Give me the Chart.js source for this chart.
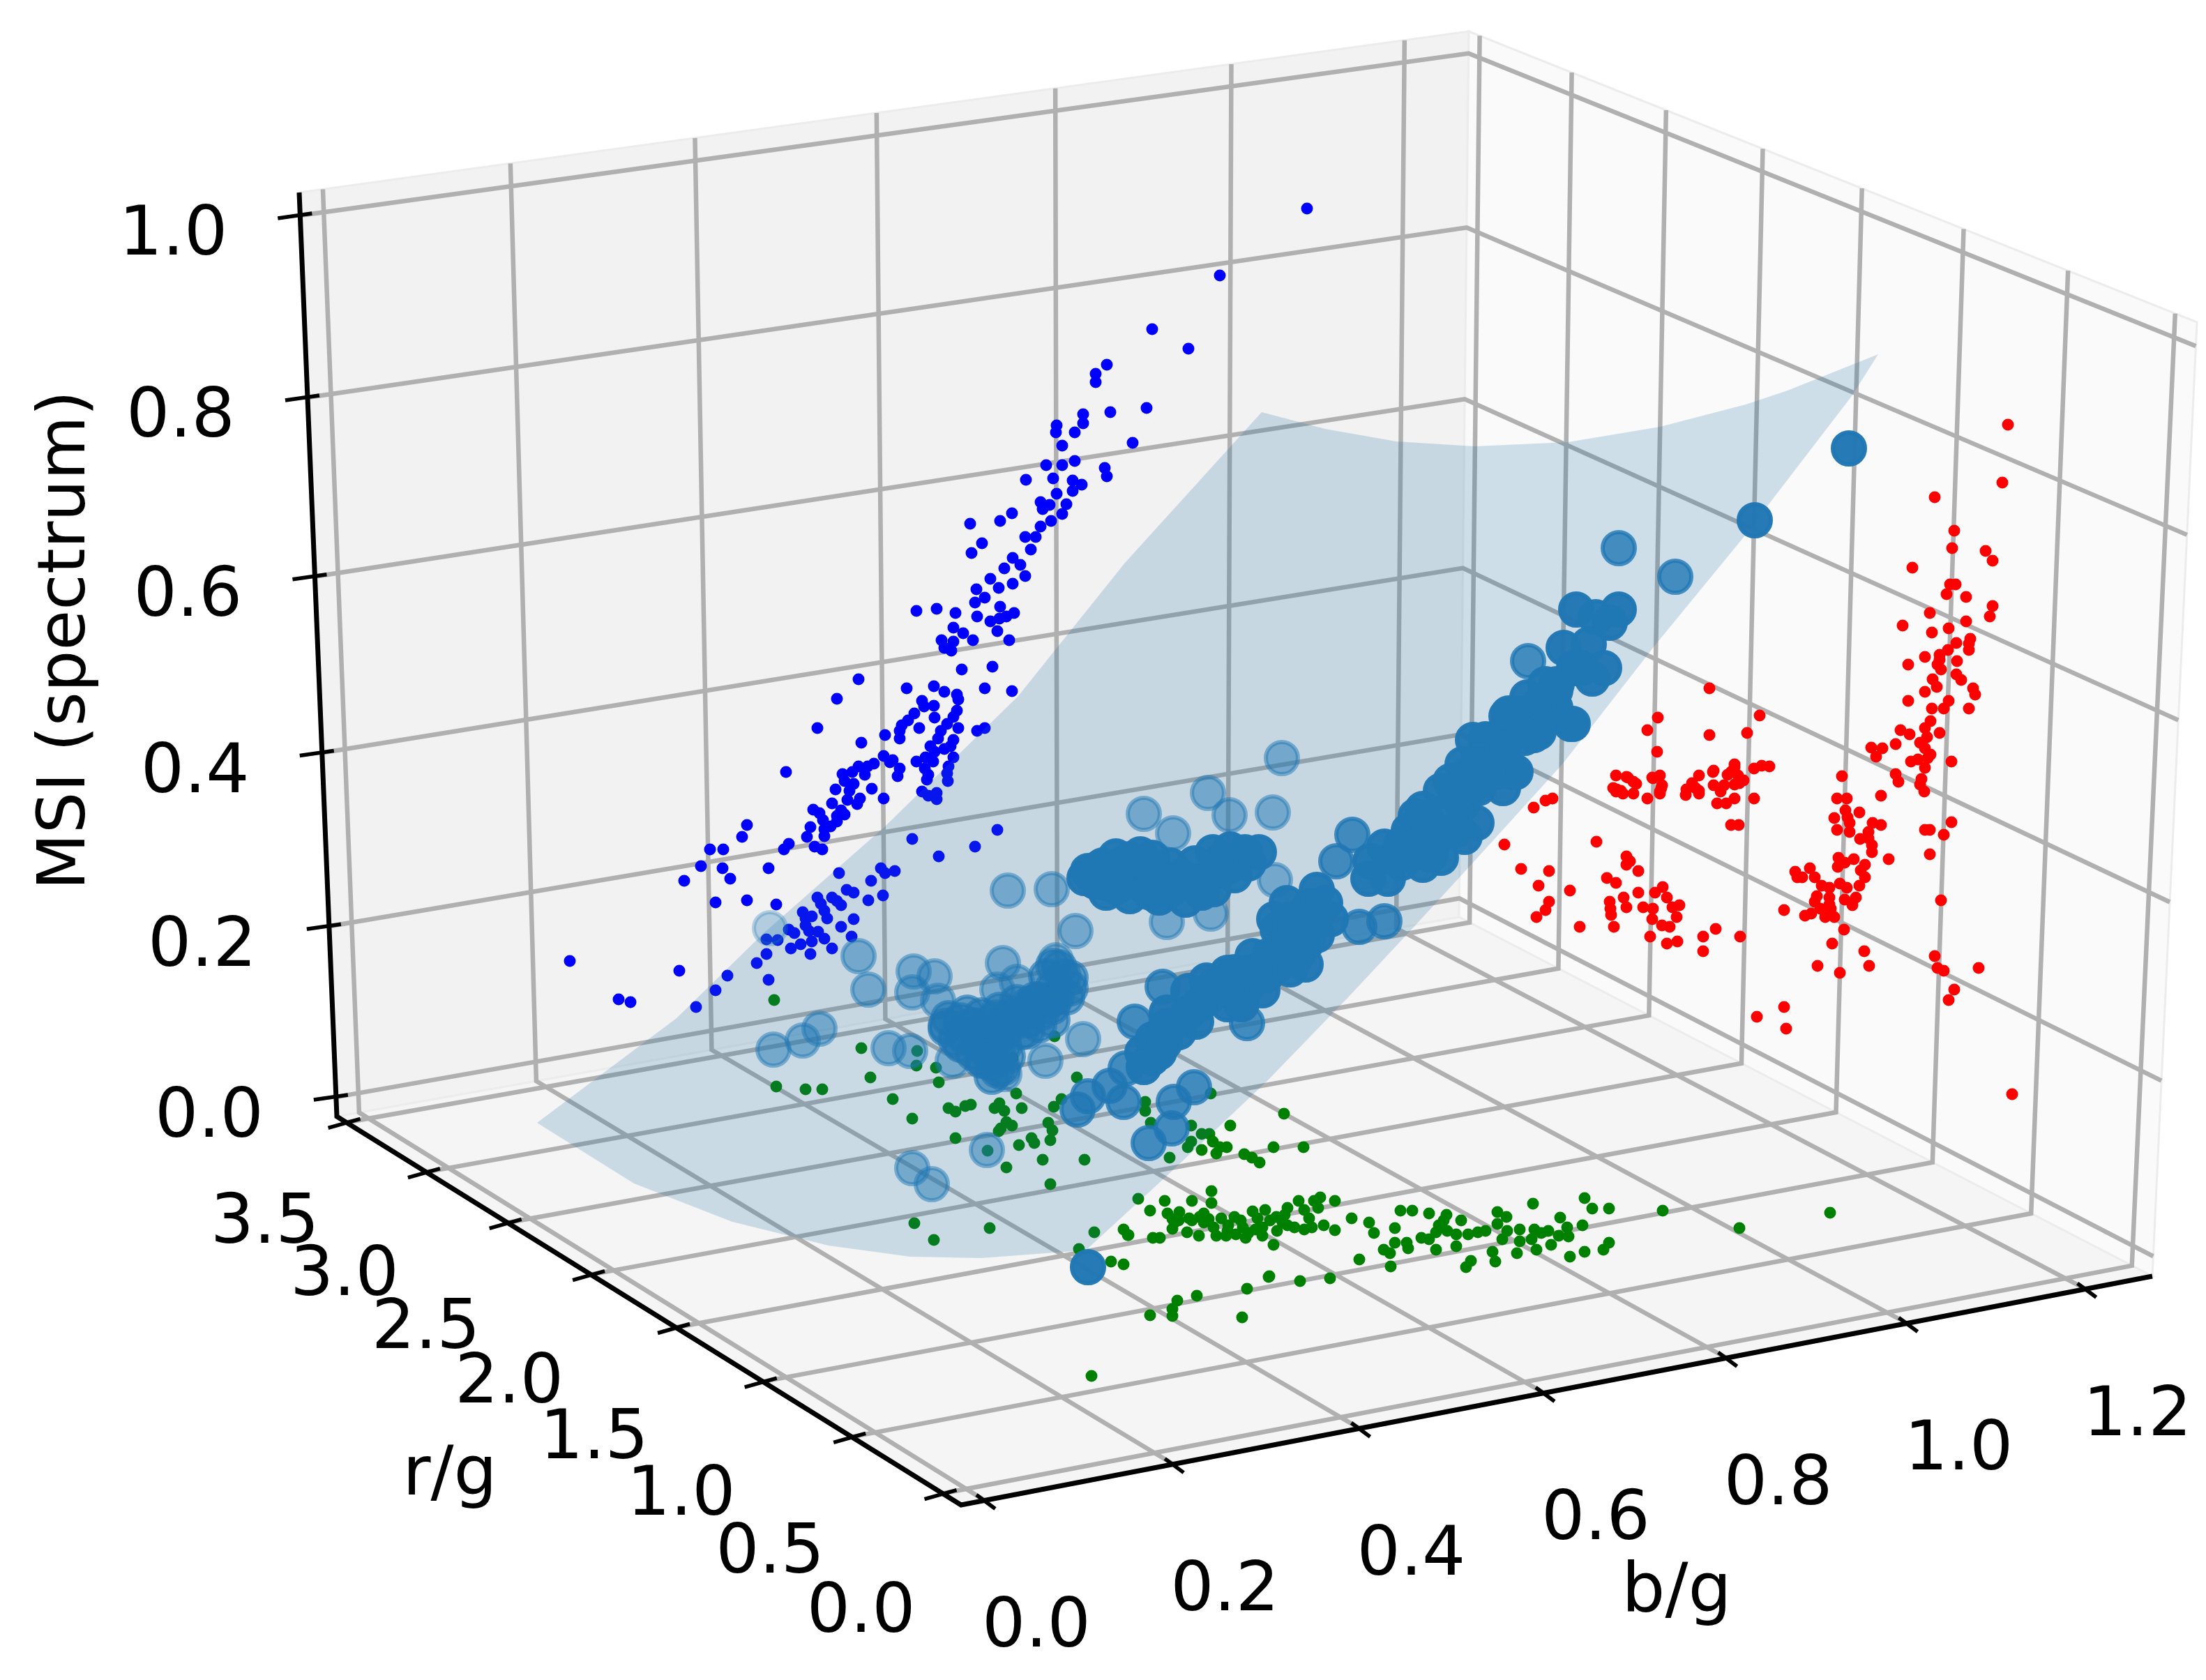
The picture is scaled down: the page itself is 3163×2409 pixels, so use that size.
<!DOCTYPE html>
<html>
<head>
<meta charset="utf-8">
<title>MSI vs r/g and b/g</title>
<script src="https://cdn.jsdelivr.net/npm/chart.js@4"></script>
<style>
    html, body { margin: 0; padding: 0; background: #fff; }
    canvas { display: block; }
</style>
</head>
<body>
<canvas id="scatter3d" width="3163" height="2409"></canvas>
<script>
// AXIS TICKS
const bTicks = [0, 0.2, 0.4, 0.6, 0.8, 1.0, 1.2];
const rTicks = [0, 0.5, 1.0, 1.5, 2.0, 2.5, 3.0, 3.5];
const zTicks = [0, 0.2, 0.4, 0.6, 0.8, 1.0];

const blueWall = [
    [1874,299],[1749,395],[1652,472],[1704,500],[1587,523],[1571,536],[1571,548],[1644,585],[1592,591],[1553,594],
    [1553,607],[1515,610],[1514,620],[1541,620],[1624,635],[1523,639],[1541,661],[1500,667],[1523,667],[1584,671],
    [1587,683],[1471,688],[1510,686],[1538,689],[1551,695],[1538,704],[1515,708],[1492,720],[1505,724],[1529,723],
    [1495,730],[1451,736],[1434,747],[1523,737],[1391,751],[1507,747],[1492,755],[1485,770],[1408,779],[1478,788],
    [1393,793],[1470,770],[1452,800],[1440,815],[1463,810],[1420,830],[1400,845],[1470,826],[1432,843],[1452,837],
    [1412,857],[1314,876],[1343,873],[1370,879],[1398,864],[1401,884],[1420,891],[1433,887],[1443,884],[1454,879],
    [1434,870],[1367,900],[1381,908],[1430,905],[1350,918],[1367,920],[1395,918],[1447,918],[1354,929],[1364,933],
    [1379,960],[1423,956],[1300,987],[1339,984],[1412,987],[1451,991],[1231,974],[1200,1002],[1354,992],[1372,996],
    [1374,1003],[1322,1005],[1325,1013],[1339,1012],[1311,1023],[1372,1019],[1367,1028],[1340,1029],[1302,1033],[1293,1040],
    [1318,1044],[1374,1044],[1358,1038],[1349,1048],[1290,1048],[1290,1059],[1269,1054],[1401,1048],[1412,1044],[1172,1044],
    [1235,1065],[1367,1061],[1345,1059],[1363,1070],[1334,1070],[1340,1078],[1354,1074],[1327,1086],[1367,1086],[1314,1092],
    [1338,1092],[1360,1099],[1326,1102],[1358,1109],[1331,1111],[1329,1118],[1359,1120],[1267,1084],[1276,1093],[1280,1090],
    [1253,1095],[1244,1099],[1231,1099],[1222,1107],[1240,1111],[1208,1110],[1290,1102],[1287,1113],[1127,1107],[1211,1120],
    [1224,1124],[1198,1132],[1250,1131],[1218,1134],[1322,1135],[1331,1141],[1343,1137],[1343,1146],[1267,1145],[1233,1145],
    [1215,1147],[1229,1153],[1193,1152],[1206,1162],[1166,1161],[1175,1166],[1200,1170],[1211,1168],[1180,1176],[1200,1178],
    [1191,1185],[1182,1189],[1162,1186],[1182,1199],[1157,1200],[1071,1183],[1064,1200],[1168,1214],[1179,1218],[1131,1210],
    [1124,1218],[1018,1218],[1037,1218],[1005,1242],[1036,1245],[1102,1245],[1047,1260],[981,1263],[1203,1252],[1263,1245],
    [1269,1252],[1283,1249],[1249,1263],[1308,1203],[1398,1214],[1430,1190],[1346,1228],[1214,1276],[1224,1280],[1266,1284],
    [1245,1291],[1172,1287],[1193,1287],[1200,1292],[1206,1298],[1026,1294],[1071,1291],[1113,1297],[1177,1296],[1182,1306],
    [1151,1308],[1164,1314],[1155,1317],[1186,1317],[1224,1318],[1155,1327],[1206,1329],[1160,1335],[1173,1336],[1131,1333],
    [1139,1338],[1182,1346],[1221,1343],[1099,1347],[1115,1348],[1164,1350],[1148,1354],[1134,1360],[1193,1360],[1162,1368],
    [1099,1368],[1085,1381],[817,1378],[974,1392],[1043,1399],[1102,1405],[1026,1420],[887,1433],[904,1437],[998,1444]
];

const redWall = [
    [2879,609],[2871,692],[2774,713],[2802,761],[2799,786],[2847,790],[2857,804],[2742,814],[2796,838],[2804,838],
    [2791,852],[2819,856],[2857,869],[2767,879],[2853,884],[2819,891],[2728,897],[2794,901],[2770,907],[2825,916],
    [2805,922],[2823,923],[2823,932],[2793,932],[2781,939],[2760,942],[2806,948],[2781,946],[2736,953],[2778,953],
    [2783,960],[2805,967],[2812,975],[2771,974],[2777,985],[2829,987],[2832,996],[2760,992],[2736,1005],[2794,1005],
    [2770,1016],[2787,1016],[2823,1016],[2768,1034],[2760,1044],[2725,1047],[2781,1051],[2738,1053],[2763,1057],[2753,1065],
    [2718,1067],[2683,1072],[2699,1073],[2760,1073],[2690,1085],[2768,1082],[2740,1092],[2750,1089],[2764,1087],[2798,1092],
    [2760,1101],[2718,1110],[2641,1113],[2722,1121],[2755,1117],[2753,1125],[2451,987],[2377,1029],[2523,1026],[2362,1047],
    [2451,1054],[2505,1051],[2376,1078],[2537,1099],[2526,1098],[2515,1102],[2487,1096],[2457,1105],[2482,1107],[2492,1112],
    [2500,1119],[2436,1112],[2426,1123],[2418,1132],[2457,1126],[2472,1126],[2487,1125],[2317,1112],[2332,1114],[2342,1121],
    [2370,1116],[2380,1112],[2383,1126],[2313,1130],[2324,1134],[2380,1135],[2436,1134],[2467,1135],[2431,1130],[2456,1107],
    [2487,1100],[2477,1111],[2494,1123],[2334,1115],[2346,1124],[2369,1115],[2382,1130],[2318,1132],
    [2226,1145],[2216,1148],[2199,1158],[2317,1135],[2342,1138],[2327,1138],[2362,1145],[2380,1138],[2417,1140],[2436,1138],
    [2462,1152],[2475,1152],[2487,1145],[2515,1145],[2482,1183],[2493,1183],[2634,1145],[2648,1145],[2697,1141],[2759,1135],
    [2646,1162],[2666,1165],[2630,1173],[2649,1172],[2798,1179],[2685,1180],[2697,1183],[2652,1180],[2634,1190],[2652,1193],
    [2760,1190],[2767,1190],[2787,1197],[2679,1193],[2667,1203],[2679,1202],[2684,1212],[2684,1222],[2767,1225],[2708,1232],
    [2636,1230],[2645,1237],[2658,1232],[2674,1240],[2668,1248],[2635,1243],[2595,1245],[2574,1250],[2577,1258],[2584,1258],
    [2602,1258],[2674,1258],[2666,1270],[2612,1270],[2638,1267],[2623,1273],[2648,1273],[2605,1285],[2623,1287],[2661,1287],
    [2602,1293],[2645,1290],[2623,1297],[2656,1298],[2783,1291],[2558,1305],[2610,1303],[2625,1303],[2597,1310],[2588,1313],
    [2617,1315],[2630,1315],[2644,1333],[2627,1353],[2673,1364],[2606,1385],[2680,1385],[2638,1395],[2774,1371],[2778,1388],
    [2787,1392],[2837,1388],[2802,1419],[2794,1434],[2885,1569],[2558,1444],[2519,1458],[2561,1475],
    [2157,1211],[2289,1207],[2181,1246],[2221,1249],[2206,1270],[2251,1277],[2332,1228],[2337,1235],[2332,1240],[2349,1249],
    [2304,1259],[2317,1266],[2384,1272],[2373,1280],[2349,1280],[2328,1287],[2390,1287],[2221,1293],[2216,1305],[2308,1293],
    [2309,1303],[2332,1301],[2356,1301],[2370,1303],[2408,1298],[2398,1301],[2310,1312],[2203,1315],[2404,1315],[2369,1318],
    [2265,1329],[2314,1329],[2383,1327],[2394,1329],[2366,1343],[2405,1350],[2390,1353],[2442,1343],[2460,1332],[2495,1343],
    [2442,1364]
];

const greenFloor = [
    [1110,1434],[1235,1503],[1315,1507],[1314,1528],[1342,1531],[1248,1545],[1346,1552],[1113,1558],[1155,1562],[1179,1562],
    [1280,1576],[1308,1604],[1360,1589],[1370,1594],[1384,1586],[1392,1584],[1433,1582],[1426,1589],[1440,1593],[1465,1589],
    [1457,1568],[1512,1486],[1452,1517],[1544,1545],[1511,1587],[1522,1576],[1443,1609],[1451,1614],[1435,1618],[1432,1622],
    [1503,1610],[1509,1621],[1370,1632],[1479,1632],[1483,1639],[1461,1642],[1506,1635],[1416,1650],[1495,1663],[1555,1663],
    [1443,1674],[1506,1698],[1311,1754],[1419,1761],[1339,1778],[1569,1767],[1547,1791],[1593,1809],[1611,1813],[1617,1771],
    [1819,1831],[1642,1580],[1642,1593],[1736,1568],[1764,1614],[1841,1597],[1708,1614],[1650,1610],[1708,1637],[1723,1626],
    [1734,1626],[1723,1649],[1739,1637],[1749,1645],[1759,1645],[1744,1654],[1703,1645],[1826,1645],[1869,1645],[1784,1655],
    [1795,1660],[1806,1667],[1677,1660],
    [1632,1719],[1737,1708],[1670,1722],[1709,1722],[1737,1725],[1649,1736],[1674,1740],[1691,1738],[1681,1748],[1705,1747],
    [1726,1740],[1751,1747],[1733,1748],[1779,1750],[1796,1737],[1814,1735],[1803,1747],[1821,1750],[1846,1732],[1862,1722],
    [1884,1722],[1893,1717],[1914,1722],[1870,1735],[1890,1732],[1842,1742],[1877,1747],[1839,1753],[1681,1762],[1702,1767],
    [1719,1772],[1618,1771],[1653,1775],[1663,1775],[1744,1772],[1758,1772],[1772,1770],[1786,1775],[1800,1763],[1831,1765],
    [1856,1760],[1870,1763],[1881,1760],[1898,1757],[1914,1764],[1826,1785],[1611,1763],[1761,1757],[1782,1760],[1810,1760],
    [1846,1757],[1726,1753],[1684,1753],[1709,1750],[1690,1750],[1720,1745],[1740,1760],[1760,1765],[1790,1768],[1810,1772],
    [1938,1747],[1963,1753],[1970,1768],[2008,1736],[2025,1736],[2049,1740],[2074,1742],[2095,1750],[2147,1738],[2198,1726],
    [2272,1718],[2283,1733],[2307,1733],[2384,1736],[2624,1739],[2494,1761],[2237,1746],[2269,1757],[2247,1760],[2000,1761],
    [2063,1757],[2070,1750],[2059,1767],[2038,1775],[2049,1777],[2088,1770],[2105,1770],[2119,1767],[2147,1755],[2161,1765],
    [2179,1763],[2200,1763],[2210,1768],[2235,1772],[2249,1773],[2154,1777],[2179,1780],[2196,1777],[2000,1782],[2017,1782],
    [1984,1792],[1993,1797],[2019,1790],[2059,1792],[2088,1787],[2140,1795],[2175,1797],[2203,1792],[2224,1785],[2307,1782],
    [2299,1792],[2272,1795],[2251,1802],[1949,1806],[1994,1816],[2109,1808],[2102,1817],[2144,1809],
    [1820,1830],[1864,1837],[1907,1833],[1788,1848],[1716,1858],[1688,1865],[1681,1877],[1681,1887],[1649,1886],[1781,1889],
    [1565,1973],[1770,1745],[1830,1745],[2130,1765],[2075,1765],[2160,1745],[2220,1765]
];

// big dots, grouped by how far back they sit
const spotsFaint = [[1104,1331]];

const spotsFar = [
    [1231,1371],[1245,1419],[1310,1393],[1340,1400],[1308,1423],[1345,1435],[1445,1277],[1508,1275],[1542,1335],[1640,1167],
    [1682,1195],[1732,1137],[1763,1169],[1825,1165],[1838,1087],[1828,1262],[1673,1322],[1736,1310],[1438,1381],[1458,1408],
    [1430,1419],[1514,1377],[1109,1505],[1151,1492],[1175,1475],[1274,1503],[1305,1507],[1366,1521],[1553,1490],[1499,1521],
    [1440,1540],[1415,1649],[1308,1675],[1336,1698]
];

const spotsBlob = [
    [1377,1463],[1407,1456],[1433,1448],[1458,1437],[1484,1433],[1509,1417],[1535,1417],[1519,1387],[1509,1444],[1356,1475],
    [1382,1486],[1422,1482],[1448,1471],[1473,1463],[1494,1452],[1422,1505],[1422,1525],[1422,1544],[1402,1482],[1428,1459],
    [1463,1456],[1489,1433],[1509,1463],[1417,1494],[1438,1482],[1405,1500],[1440,1500],[1465,1480],[1370,1490],[1395,1470],
    [1445,1515],[1430,1535],[1480,1445],[1500,1400],[1525,1400],[1515,1430],[1490,1470],[1410,1520],[1450,1455],[1360,1460],
    [1387,1452],[1356,1471],[1377,1498],[1407,1521],[1438,1532],[1473,1479],[1509,1433],[1535,1402],[1510,1385],[1530,1430],
    [1395,1510],[1440,1465],[1475,1440],[1415,1470],[1432,1515]
];

const spotsMid = [
    [1627,1465],[1667,1415],[1788,1467],[1916,1235],[1939,1197],[1614,1532],[1591,1557],[1560,1572],[1545,1591],[1611,1580],
    [1712,1559],[1683,1580],[1680,1618],[1647,1639],[1949,1329],[1985,1321],[2191,948],[2402,827],[2321,786]
];

const spotsNear = [
    [1555,1259],[1570,1264],[1586,1266],[1581,1241],[1606,1241],[1627,1249],[1647,1257],[1652,1230],[1678,1241],[1693,1257],
    [1713,1238],[1739,1222],[1764,1218],[1785,1222],[1805,1222],[1744,1249],[1718,1264],[1678,1276],[1642,1272],[1601,1272],
    [1586,1280],[1662,1287],[1723,1280],[1688,1264],[1611,1257],[1560,1249],[1764,1241],[1790,1238],[1620,1232],[1600,1228],
    [1620,1285],[1700,1290],[1740,1275],[1770,1255],[1660,1262],[1635,1225],[1575,1245],[1600,1255],[1650,1280],[1750,1235],
    [1638,1509],[1653,1490],[1673,1471],[1704,1452],[1730,1432],[1760,1421],[1786,1417],[1816,1398],[1832,1383],[1806,1390],
    [1770,1394],[1730,1406],[1704,1421],[1673,1452],[1842,1364],[1862,1367],[1857,1344],[1852,1318],[1878,1299],[1888,1276],
    [1908,1318],[1888,1341],[1872,1383],[1832,1333],[1827,1318],[1796,1371],[1662,1509],[1652,1517],[1760,1440],[1690,1480],
    [1715,1465],[1790,1395],[1820,1370],[1850,1390],[1640,1530],[1740,1415],[1870,1310],[1845,1295],[1780,1440],[1810,1420],
    [1760,1395],[1875,1350],[1850,1330],[1900,1295],[1720,1440],[1670,1495],
    [1962,1260],[1990,1260],[1985,1214],[2020,1191],[2010,1237],[2051,1226],[2066,1230],[2051,1184],[2066,1134],[2097,1153],
    [2112,1126],[2117,1180],[2097,1096],[2112,1061],[2143,1107],[2173,1107],[2148,1057],[2163,1023],[2199,1054],[2230,1015],
    [2255,1038],[2224,1027],[2179,1023],[2138,1084],[2087,1191],[2036,1203],[2000,1230],[2030,1170],[2080,1160],[2120,1130],
    [2155,1130],[2060,1200],[2130,1060],[2190,1000],[2010,1210],[2040,1160],[2080,1120],[2120,1090],[2160,1060],[2200,1020],
    [2230,990],[2040,1240],[1965,1235],[2100,1200],[2150,1100],
    [2242,929],[2260,874],[2321,874],[2288,885],[2308,893],[2278,924],[2300,958],[2283,973],[2257,958],[2216,981],
    [2252,1038],[2227,1019],[2206,1012],[2160,1027],[2170,1107],[2186,1058],[2155,1073],[2140,1107],[2104,1111],[2206,1050],
    [2232,981],[2267,958],[2516,746],[2651,643],[1560,1817]
];

// outline of the fitted surface
const surfaceEdge = [
    [770,1610],[909,1697],[1050,1752],[1188,1786],[1305,1802],[1407,1804],[1540,1794],[1560,1790],[1672,1687],[1816,1551],
    [1934,1429],[2020,1337],[2112,1237],[2240,1096],[2374,924],[2497,774],[2655,568],[2693,508],[2563,560],[2503,580],
    [2380,612],[2248,634],[2114,640],[2002,633],[1900,615],[1809,591],[1613,807],[1460,998],[1269,1185],[1095,1338],
    [970,1460],[770,1610]
];

// BOX GEOMETRY
const bLim = [-0.025, 1.275];
const rLim = [-0.1, 3.56];
const zLim = [-0.023, 1.025];

const corners = {
    front: [1378, 2158],
    right: [3086, 1830],
    rightTop: [3150, 462],
    backBottom: [2092, 1315],
    backTop: [2106, 45],
    leftBottom: [483, 1601],
    leftTop: [429, 276],
};

// maps the unit square onto a four sided pane
const quadMap = (p0, p1, p2, p3) => {
    const dx1 = p1[0] - p2[0], dx2 = p3[0] - p2[0], sx = p0[0] - p1[0] + p2[0] - p3[0];
    const dy1 = p1[1] - p2[1], dy2 = p3[1] - p2[1], sy = p0[1] - p1[1] + p2[1] - p3[1];
    const den = dx1 * dy2 - dx2 * dy1;
    const g = (sx * dy2 - dx2 * sy) / den;
    const h = (dx1 * sy - sx * dy1) / den;
    const a = p1[0] - p0[0] + g * p1[0], b = p3[0] - p0[0] + h * p3[0];
    const d = p1[1] - p0[1] + g * p1[1], e = p3[1] - p0[1] + h * p3[1];
    return (u, v) => {
        const w = g * u + h * v + 1;
        return [(a * u + b * v + p0[0]) / w, (d * u + e * v + p0[1]) / w];
    };
};

const frac = (value, lim) => (value - lim[0]) / (lim[1] - lim[0]);

const floorMap = quadMap(corners.front, corners.right, corners.backBottom, corners.leftBottom);
const leftMap = quadMap(corners.leftBottom, corners.backBottom, corners.backTop, corners.leftTop);
const rightMap = quadMap(corners.right, corners.backBottom, corners.backTop, corners.rightTop);

const onFloor = (b, r) => floorMap(frac(b, bLim), frac(r, rLim));
const onLeft = (b, z) => leftMap(frac(b, bLim), frac(z, zLim));
const onRight = (r, z) => rightMap(frac(r, rLim), frac(z, zLim));

const toXY = (pairs) => pairs.map(p => ({ x: p[0], y: p[1] }));

// paint order, first one ends up at the bottom
const layers = [];

const addPane = (quad, color) => {
    layers.push({
        type: 'line',
        data: toXY(quad.concat([quad[0]])),
        backgroundColor: color,
        borderColor: '#ececec',
        borderWidth: 3,
        fill: 'shape',
        pointRadius: 0,
        tension: 0,
    });
};

const addLine = (pairs, color, width) => {
    layers.push({
        type: 'line',
        data: toXY(pairs),
        borderColor: color,
        borderWidth: width,
        fill: false,
        pointRadius: 0,
        tension: 0,
        borderCapStyle: 'butt',
        borderJoinStyle: 'miter',
    });
};

const addDots = (pairs, color) => {
    layers.push({
        type: 'scatter',
        data: toXY(pairs),
        backgroundColor: color,
        borderWidth: 0,
        pointRadius: 8.5,
    });
};

const addSpots = (pairs, alpha) => {
    const color = 'rgba(31,119,180,' + alpha + ')';
    layers.push({
        type: 'scatter',
        data: toXY(pairs),
        backgroundColor: color,
        borderColor: color,
        borderWidth: 6,
        pointRadius: 23,
    });
};

// PANES
addPane([corners.leftBottom, corners.backBottom, corners.backTop, corners.leftTop], '#f2f2f2');
addPane([corners.right, corners.backBottom, corners.backTop, corners.rightTop], '#fafafa');
addPane([corners.front, corners.right, corners.backBottom, corners.leftBottom], '#f5f5f5');

// GRID
const gridColor = '#b0b0b0';
const gridWidth = 6.5;

bTicks.forEach((b) => {
    addLine([onFloor(b, rLim[0]), onFloor(b, rLim[1]), onLeft(b, zLim[1])], gridColor, gridWidth);
});
rTicks.forEach((r) => {
    addLine([onFloor(bLim[0], r), onFloor(bLim[1], r), onRight(r, zLim[1])], gridColor, gridWidth);
});
zTicks.forEach((z) => {
    addLine([onLeft(bLim[0], z), onLeft(bLim[1], z), onRight(rLim[0], z)], gridColor, gridWidth);
});

// AXES
addLine([corners.leftTop, corners.leftBottom, corners.front, corners.right], '#000', 7);

const addTick = (p, from, to) => {
    addLine([[p[0] + from[0], p[1] + from[1]], [p[0] + to[0], p[1] + to[1]]], '#000', 5.5);
};
const labels = [];

zTicks.forEach((z) => {
    const p = onLeft(bLim[0], z);
    addTick(p, [-32, 4], [17, -3]);
    labels.push({ text: z.toFixed(1), x: p[0] - 182, y: p[1] + 31 });
});
rTicks.forEach((r) => {
    const p = onFloor(bLim[0], r);
    addTick(p, [-26, 8], [20, -5]);
    labels.push({ text: r.toFixed(1), x: p[0] - 117, y: p[1] + 173 - r * 7.4 });
});
bTicks.forEach((b) => {
    const p = onFloor(b, rLim[0]);
    addTick(p, [-12, -8], [15, 12]);
    labels.push({ text: b.toFixed(1), x: p[0] + 74, y: p[1] + 184 });
});

labels.push({ text: 'r/g', x: 645, y: 2118 });
labels.push({ text: 'b/g', x: 2404, y: 2286 });
labels.push({ text: 'MSI (spectrum)', x: 97, y: 918, rotate: true, size: 94 });

// POINTS
addDots(blueWall, '#0000ff');
addDots(redWall, '#ff0000');
addDots(greenFloor, '#008000');

layers.push({
    type: 'line',
    data: toXY(surfaceEdge),
    backgroundColor: 'rgba(31,110,165,0.2)',
    borderWidth: 0,
    fill: 'shape',
    pointRadius: 0,
    tension: 0,
});

addSpots(spotsFaint, 0.3);
addSpots(spotsFar, 0.5);
addSpots(spotsBlob, 0.65);
addSpots(spotsMid, 0.8);
addSpots(spotsNear, 0.97);

// tick and axis names, placed through the hidden scales
const textPlugin = {
    id: 'axisText',
    afterDatasetsDraw(chart) {
        const ctx = chart.ctx;
        ctx.save();
        ctx.fillStyle = '#000';
        ctx.textAlign = 'center';
        ctx.textBaseline = 'middle';
        labels.forEach((label) => {
            const x = chart.scales.x.getPixelForValue(label.x);
            const y = chart.scales.y.getPixelForValue(label.y);
            ctx.save();
            ctx.font = (label.size || 98) + 'px "DejaVu Sans"';
            ctx.translate(x, y);
            if (label.rotate) {
                ctx.rotate(-Math.PI / 2);
            }
            ctx.fillText(label.text, 0, 0);
            ctx.restore();
        });
        ctx.restore();
    }
};

new Chart(document.getElementById('scatter3d'), {
    type: 'scatter',
    data: {
        // chart.js paints the first dataset last
        datasets: layers.slice().reverse(),
    },
    options: {
        responsive: false,
        animation: false,
        events: [],
        layout: {
            autoPadding: false,
            padding: 0
        },
        plugins: {
            legend: {
                display: false,
            },
            title: {
                display: false,
            },
            tooltip: {
                enabled: false,
            },
        },
        scales: {
            x: {
                type: 'linear',
                display: false,
                min: 0,
                max: 3163,
            },
            y: {
                type: 'linear',
                display: false,
                reverse: true,
                min: 0,
                max: 2409,
            }
        },
    },
    plugins: [textPlugin],
});
</script>
</body>
</html>
